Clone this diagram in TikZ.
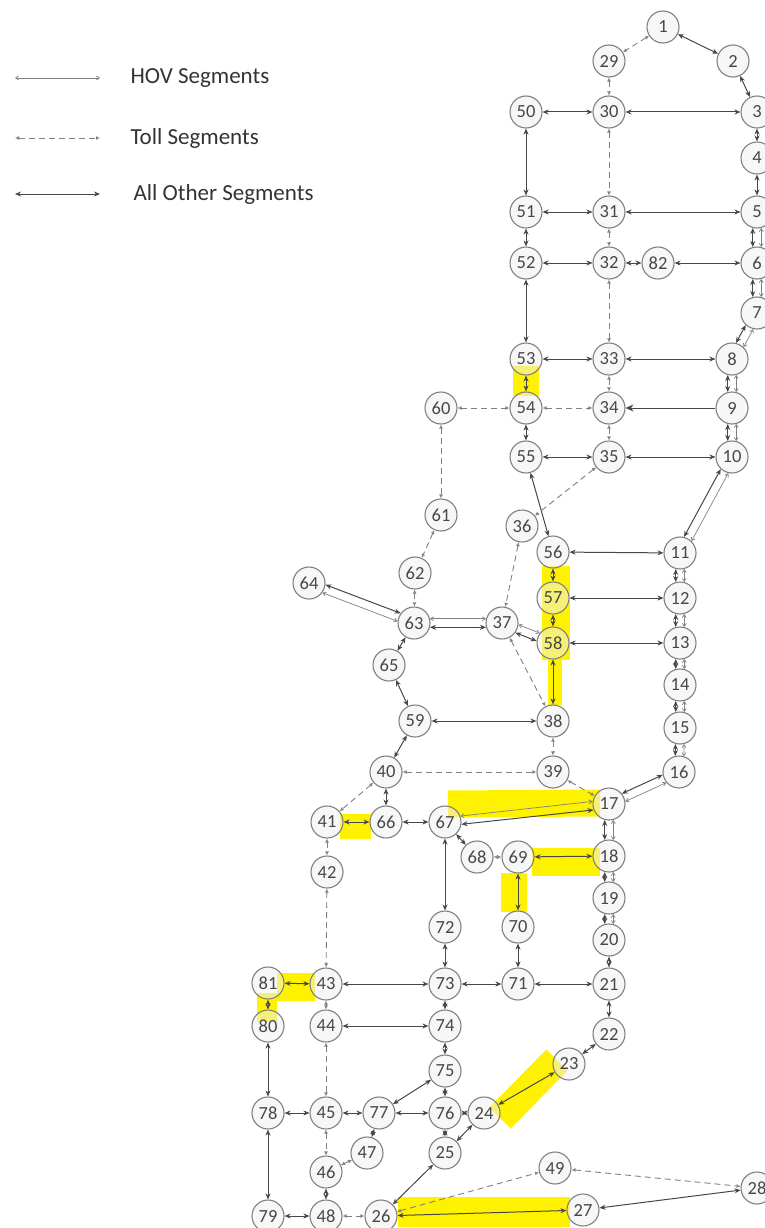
\documentclass[tikz,border=0pt]{standalone}
\usepackage{fontspec}
\setmainfont{Carlito}
\usetikzlibrary{arrows.meta, calc, backgrounds}
\definecolor{marker}{HTML}{FFF200}

\tikzset{
  stn/.style={circle, draw=black!50, line width=1.1pt, minimum size=32pt, inner sep=0pt,
              fill=black!6, fill opacity=0.5, text opacity=1,
              text=black!72, font=\fontsize{18.5}{18.5}\selectfont},
  other/.style={draw=black!72, line width=1pt,
              {Stealth[length=6pt,width=5pt]}-{Stealth[length=6pt,width=5pt]}},
  oneway/.style={draw=black!72, line width=1pt, -{Stealth[length=8pt,width=7pt]}},
  hov/.style={draw=black!50, line width=0.7pt,
              {Straight Barb[length=3pt,width=4pt]}-{Straight Barb[length=3pt,width=4pt]}},
  toll/.style={draw=black!50, line width=0.9pt, dash pattern=on 6pt off 4pt,
              {Latex[open,length=4pt,width=4pt]}-{Latex[open,length=4pt,width=4pt]}},
  hl/.style={draw=marker, line width=26pt},
  legend/.style={anchor=west, text=black!80, font=\fontsize{23}{23}\selectfont}
}

% two parallel segments between a pair of stations
\newcommand{\pair}[2]{%
  \draw[other] let \p1=($(n#2)-(n#1)$), \n1={atan2(\y1,\x1)-15}, \n2={atan2(\y1,\x1)+195}
    in (n#1.\n1) -- (n#2.\n2);
  \draw[hov] let \p1=($(n#2)-(n#1)$), \n1={atan2(\y1,\x1)+15}, \n2={atan2(\y1,\x1)+165}
    in (n#1.\n1) -- (n#2.\n2);
}

\begin{document}
\begin{tikzpicture}[x=1pt, y=-1pt]
  \useasboundingbox (0,0) rectangle (765,1228);
  \clip (0,0) rectangle (765,1228);

  % legend
  \coordinate (h0) at (15,78);  \coordinate (h1) at (100,78);
  \coordinate (t0) at (15,138); \coordinate (t1) at (100,138);
  \coordinate (o0) at (15,194); \coordinate (o1) at (100,194);
  \draw[hov] (h0) -- (h1);
  \draw[toll] (t0) -- (t1);
  \draw[other] (o0) -- (o1);
  \node[legend] (lhov) at (127,78) {HOV Segments};
  \node[legend] (ltoll) at (127,138) {Toll Segments};
  \node[legend] (loth) at (130,194) {All Other Segments};

  % stations
  \foreach \id/\px/\py in {1/663/27, 2/733/61, 3/757/112, 4/757/158, 5/757/212,
      6/757/263, 7/757/313, 8/732/359, 9/732/408, 10/732/457, 11/680/553,
      12/680/598, 13/680/643, 14/680/685, 15/680/728, 16/679/772, 17/609/804,
      18/609/856, 19/609/898, 20/609/940, 21/609/984, 22/609/1034, 23/569/1064,
      24/484/1113, 25/445/1153, 26/381/1216, 27/583/1210, 28/757/1188,
      29/609/61, 30/609/112, 31/609/212, 32/609/263, 33/609/359, 34/609/408,
      35/609/457, 36/522/526, 37/502/623, 38/553/721, 39/553/772, 40/386/772,
      41/327/822, 42/327/872, 43/326/984, 44/326/1026, 45/326/1113,
      46/326/1172, 47/367/1153, 48/326/1216, 49/555/1168, 50/526/112,
      51/526/212, 52/526/263, 53/526/359, 54/526/408, 55/526/457, 56/553/552,
      57/553/598, 58/553/643, 59/415/721, 60/441/408, 61/441/515, 62/415/573,
      63/414/623, 64/309/583, 65/389/665, 66/386/822, 67/445/822, 68/477/857,
      69/518/857, 70/518/927, 71/518/984, 72/445/927, 73/445/984, 74/445/1026,
      75/445/1071, 76/445/1113, 77/379/1113, 78/268/1113, 79/268/1216,
      80/268/1026, 81/268/983, 82/658/263}
    \node[stn] (n\id) at (\px,\py) {\id};

  % all other segments
  \foreach \a/\b in {1/2, 2/3, 50/30, 30/3, 50/51, 3/4, 4/5, 51/31, 31/5, 51/52,
      52/32, 32/82, 82/6, 52/53, 53/33, 33/8, 53/54, 54/55, 55/35, 35/10, 55/56,
      56/11, 56/57, 57/12, 57/58, 58/13, 63/65, 58/38, 65/59, 59/38, 59/40,
      40/66, 41/66, 66/67, 67/68, 69/18, 67/72, 69/70, 72/73, 70/71, 20/21,
      81/43, 43/73, 73/71, 71/21, 81/80, 44/74, 73/74, 21/22, 22/23, 74/75,
      80/78, 75/77, 75/76, 78/45, 45/77, 77/76, 76/24, 24/23, 77/47, 76/25,
      24/25, 46/48, 78/79, 79/48, 26/25, 26/27, 28/27}
    \draw[other] (n\a) -- (n\b);
  \draw[oneway] (n9) -- (n34);

  % toll segments
  \foreach \a/\b in {1/29, 29/30, 30/31, 31/32, 32/33, 33/34, 60/54, 54/34,
      34/35, 60/61, 35/36, 61/62, 36/37, 62/63, 37/38, 38/39, 40/39, 40/41,
      39/17, 68/69, 41/42, 42/43, 43/44, 44/45, 45/46, 46/47, 48/26, 26/49,
      49/28}
    \draw[toll] (n\a) -- (n\b);

  % HOV beside general lanes
  \foreach \a/\b in {5/6, 6/7, 7/8, 8/9, 9/10, 10/11, 11/12, 12/13, 13/14,
      14/15, 15/16, 16/17, 17/18, 18/19, 19/20, 63/64, 63/37, 37/58, 67/17}
    {\pair{\a}{\b}}

  % marker highlights
  \begin{scope}[on background layer]
    \draw[hl] (526,366) -- (526,396);
    \draw[hl, line width=28pt] (556,566) -- (556,660);
    \draw[hl, line width=14pt] (555,660) -- (555,705);
    \draw[hl, line width=27pt] (448,804) -- (600,803);
    \draw[hl, line width=25pt] (340,826) -- (371,826);
    \draw[hl, line width=28pt] (532,862) -- (600,862);
    \draw[hl] (514,873) -- (514,912);
    \draw[hl, line width=28pt] (277,987) -- (315,987);
    \draw[hl, line width=20pt] (267,993) -- (267,1022);
    \draw[hl, line width=30pt] (500,1118) -- (557,1060);
    \draw[hl, line width=30pt] (398,1212) -- (570,1212);
  \end{scope}
\end{tikzpicture}
\end{document}
